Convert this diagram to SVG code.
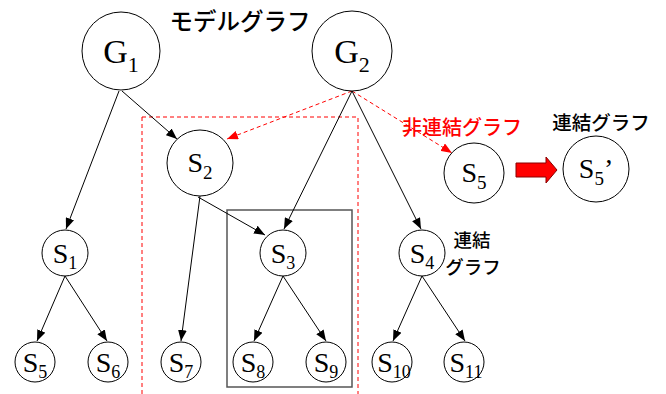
<svg xmlns="http://www.w3.org/2000/svg" width="666" height="394" viewBox="0 0 666 394">
<defs>
<style>
.n{fill:#fff;stroke:#000;stroke-width:1}
.t{font-family:"Liberation Serif","Times New Roman",serif;fill:#000;text-anchor:middle}
.j{font-family:"Noto Sans CJK JP","Noto Sans",sans-serif;fill:#000;font-weight:500;text-anchor:middle}
.e{stroke:#000;stroke-width:1;fill:none;marker-end:url(#ab)}
.r{stroke:#f00;stroke-width:1;fill:none;stroke-dasharray:4 3}
</style>
<marker id="ab" markerUnits="userSpaceOnUse" markerWidth="11" markerHeight="9" refX="10" refY="4" orient="auto" viewBox="0 0 10 8"><path d="M0,0 L10,4 L0,8 z" fill="#000"/></marker>
<marker id="ar" markerUnits="userSpaceOnUse" markerWidth="11" markerHeight="9" refX="10" refY="4" orient="auto" viewBox="0 0 10 8"><path d="M0,0 L10,4 L0,8 z" fill="#f00"/></marker>
</defs>
<rect x="142" y="117" width="216" height="290" class="r"/>
<rect x="227" y="210" width="125" height="177" fill="none" stroke="#555" stroke-width="1.5"/>
<g id="connectors">
<line class="e" x1="122" y1="91" x2="177" y2="139"/>
<line class="e" x1="119" y1="91" x2="66" y2="229"/>
<line class="r" x1="352" y1="91" x2="227" y2="139" marker-end="url(#ar)"/>
<line class="r" x1="352" y1="91" x2="452" y2="153" marker-end="url(#ar)"/>
<line class="e" x1="352" y1="91" x2="284" y2="229"/>
<line class="e" x1="352" y1="91" x2="421" y2="229"/>
<line class="e" x1="198" y1="197" x2="265" y2="235"/>
<line class="e" x1="200" y1="196" x2="181" y2="341"/>
<line class="e" x1="65" y1="276" x2="37" y2="341"/>
<line class="e" x1="65" y1="276" x2="107" y2="341"/>
<line class="e" x1="283" y1="276" x2="254" y2="341"/>
<line class="e" x1="283" y1="276" x2="326" y2="341"/>
<line class="e" x1="422" y1="276" x2="393" y2="341"/>
<line class="e" x1="422" y1="276" x2="465" y2="341"/>
<path d="M516,163 L546,163 L546,157 L557,170 L546,183 L546,177 L516,177 z" fill="#f00" stroke="#800" stroke-width="1"/>
</g>
<text class="j" x="240" y="30" font-size="23.5">モデルグラフ</text>
<text class="j" x="462" y="135" font-size="20" style="fill:#f00">非連結グラフ</text>
<text class="j" x="601" y="130" font-size="19.5">連結グラフ</text>
<text class="j" x="472" y="247" font-size="18.5">連結</text>
<text class="j" x="473" y="274" font-size="18.5">グラフ</text>
<g id="G1"><circle class="n" cx="121" cy="51" r="39"/><text class="t" x="121" y="63" font-size="34">G<tspan dy="9" font-size="22">1</tspan></text></g>
<g id="G2"><circle class="n" cx="352" cy="51" r="40"/><text class="t" x="352" y="63" font-size="34">G<tspan dy="9" font-size="22">2</tspan></text></g>
<g id="S2"><circle class="n" cx="200" cy="163" r="33"/><text class="t" x="200" y="172" font-size="28">S<tspan dy="7" font-size="19">2</tspan></text></g>
<g id="S1"><circle class="n" cx="65" cy="253" r="23"/><text class="t" x="65" y="263" font-size="28">S<tspan dy="6" font-size="18">1</tspan></text></g>
<g id="S3"><circle class="n" cx="283" cy="253" r="23"/><text class="t" x="283" y="263" font-size="28">S<tspan dy="6" font-size="18">3</tspan></text></g>
<g id="S4"><circle class="n" cx="422" cy="253" r="23"/><text class="t" x="422" y="263" font-size="28">S<tspan dy="6" font-size="18">4</tspan></text></g>
<g id="S5a"><circle class="n" cx="35" cy="362" r="20"/><text class="t" x="35" y="372" font-size="28">S<tspan dy="6" font-size="18">5</tspan></text></g>
<g id="S6"><circle class="n" cx="108" cy="362" r="20"/><text class="t" x="108" y="372" font-size="28">S<tspan dy="6" font-size="18">6</tspan></text></g>
<g id="S7"><circle class="n" cx="181" cy="362" r="20"/><text class="t" x="181" y="372" font-size="28">S<tspan dy="6" font-size="18">7</tspan></text></g>
<g id="S8"><circle class="n" cx="253" cy="362" r="20"/><text class="t" x="253" y="372" font-size="28">S<tspan dy="6" font-size="18">8</tspan></text></g>
<g id="S9"><circle class="n" cx="326" cy="362" r="20"/><text class="t" x="326" y="372" font-size="28">S<tspan dy="6" font-size="18">9</tspan></text></g>
<g id="S10"><circle class="n" cx="392" cy="362" r="20"/><text class="t" x="394" y="372" font-size="28">S<tspan dy="6" font-size="18">10</tspan></text></g>
<g id="S11"><circle class="n" cx="464" cy="362" r="20"/><text class="t" x="466" y="372" font-size="28">S<tspan dy="6" font-size="18">11</tspan></text></g>
<g id="S5"><circle class="n" cx="474" cy="173" r="30"/><text class="t" x="474" y="182" font-size="28">S<tspan dy="7" font-size="19">5</tspan></text></g>
<g id="S5p"><circle class="n" cx="596" cy="169" r="33"/><text class="t" x="596" y="178" font-size="28">S<tspan dy="7" font-size="19">5</tspan><tspan dy="-7">’</tspan></text></g>
</svg>
